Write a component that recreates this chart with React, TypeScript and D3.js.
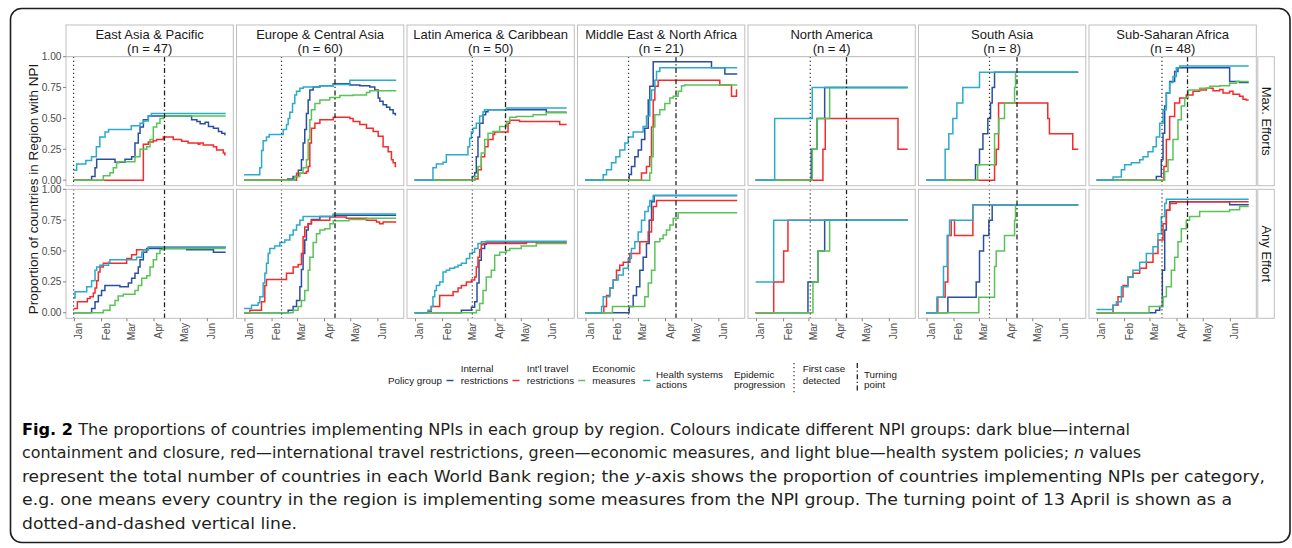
import React from "react";
import * as d3 from "d3";

// ---------------- data ----------------
// day offsets are days since 31 Dec 2019; values are proportions of countries
const REGIONS = [
  "East Asia & Pacific",
  "Europe & Central Asia",
  "Latin America & Caribbean",
  "Middle East & North Africa",
  "North America",
  "South Asia",
  "Sub-Saharan Africa",
];
const REGION_N = [47, 60, 50, 21, 4, 8, 48];
const FIRST_CASE_DAY = [0, 42.8, 66, 49.7, 62.5, 72.5, 74.8];
const TURNING_DAY = 104;
const END_DAY = 174;
const ROW_LABELS = ["Max. Efforts", "Any Effort"];
const SERIES_NAMES = ["Internal\nrestrictions", "Int'l travel\nrestrictions", "Economic\nmeasures", "Health systems\nactions"];
const SERIES_COLORS = ["#2b4f9e", "#f52a2a", "#58c456", "#2aaacd"];
const Y_TICKS = [0, 0.25, 0.5, 0.75, 1];

type Pt = [number, number];

// East Asia & Pacific
const eapMaxInternal: Pt[] = [[0,0],[20.6,0.03],[24.5,0.1],[26.4,0.17],[47.4,0.145],[58.8,0.17],[66.4,0.19],[70.2,0.3],[74,0.38],[76,0.43],[79.8,0.49],[85.5,0.52],[135,0.49],[141,0.475],[144.8,0.457],[150.5,0.468],[154.3,0.435],[160,0.42],[165.7,0.395],[169.5,0.38],[173,0.37]];
const eapMaxTravel: Pt[] = [[0,0],[79.8,0.29],[85.5,0.31],[91.2,0.32],[95,0.33],[102.6,0.35],[114,0.33],[123.6,0.315],[131,0.3],[142.6,0.29],[144.5,0.3],[148.3,0.285],[160,0.27],[163.6,0.245],[171.3,0.22],[173,0.205]];
const eapMaxEconomic: Pt[] = [[0,0],[34,0.035],[41.6,0.06],[45.4,0.1],[49.2,0.14],[52,0.15],[70.2,0.19],[76,0.25],[83.6,0.27],[87.4,0.33],[91.2,0.43],[95,0.46],[98.8,0.5],[102.6,0.52]];
const eapMaxHealth: Pt[] = [[0,0.08],[3.5,0.13],[14,0.16],[20.5,0.19],[26,0.27],[30,0.35],[36,0.39],[40,0.41],[66,0.44],[76,0.46],[80,0.48],[85.5,0.52],[89,0.54]];
const eapAnyInternal: Pt[] = [[0,0],[20.6,0.035],[24.5,0.09],[28.3,0.14],[32,0.18],[35.8,0.22],[53,0.21],[62.6,0.24],[66.4,0.28],[70.2,0.32],[74,0.37],[76,0.43],[79.8,0.49],[83.6,0.52],[129.4,0.51],[160,0.49]];
const eapAnyTravel: Pt[] = [[0,0.035],[4.3,0.09],[15.7,0.115],[18.8,0.13],[22.6,0.16],[24.5,0.2],[26.4,0.26],[28.3,0.33],[30.2,0.37],[34,0.4],[60.7,0.44],[66.4,0.47],[72,0.51],[85.5,0.53]];
const eapAnyEconomic: Pt[] = [[0,0],[34,0.02],[41.6,0.06],[47.4,0.1],[51,0.135],[56.8,0.15],[70.2,0.18],[74,0.22],[77.9,0.28],[83.6,0.3],[87.4,0.37],[91.2,0.43],[95,0.48],[98.8,0.51],[102.6,0.52]];
const eapAnyHealth: Pt[] = [[0,0.12],[1.6,0.17],[15,0.21],[20.6,0.26],[24.5,0.345],[26.4,0.37],[30,0.385],[40,0.41],[41.6,0.43],[72,0.45],[77.9,0.49],[79.8,0.51],[85.5,0.53]];

// Europe & Central Asia
const ecaMaxInternal: Pt[] = [[0,0],[50,0.01],[56,0.03],[62,0.08],[65.6,0.165],[67.5,0.3],[69.4,0.41],[71.3,0.54],[73.3,0.65],[75.2,0.73],[79,0.755],[86.7,0.765],[102,0.78],[121,0.77],[132.4,0.765],[143.8,0.755],[149.5,0.73],[153.4,0.665],[155.3,0.64],[159,0.61],[163,0.59],[166.7,0.57],[170.5,0.54],[173,0.53]];
const ecaMaxTravel: Pt[] = [[0,0],[60,0.055],[71.3,0.07],[73.3,0.11],[75.2,0.3],[77,0.42],[81,0.46],[86.7,0.49],[102,0.51],[121,0.5],[124.7,0.475],[132.4,0.45],[140,0.42],[147.7,0.395],[153.4,0.355],[159,0.27],[164.8,0.23],[168.6,0.165],[170.5,0.14],[173,0.11]];
const ecaMaxEconomic: Pt[] = [[0,0],[58,0.03],[63.8,0.055],[67.5,0.1],[71.3,0.165],[73.3,0.33],[75.2,0.49],[77,0.57],[81,0.62],[86.7,0.65],[98,0.67],[109.5,0.685],[124.7,0.69],[140,0.71],[143.8,0.725]];
const ecaMaxHealth: Pt[] = [[0,0.043],[18,0.1],[20,0.24],[21.8,0.32],[25.6,0.35],[28.7,0.37],[44.7,0.41],[48.5,0.45],[50.4,0.5],[52.3,0.55],[55.4,0.62],[58,0.69],[60,0.72],[63.8,0.745],[67.6,0.755],[86.7,0.765],[102,0.775],[121,0.81]];
const ecaAnyInternal: Pt[] = [[0,0],[50.4,0.02],[56.1,0.05],[60,0.1],[63.8,0.21],[65.6,0.35],[67.5,0.48],[69.4,0.59],[71.3,0.67],[73.3,0.72],[77,0.755],[86.7,0.78],[102,0.79]];
const ecaAnyTravel: Pt[] = [[0,0],[6.6,0.02],[19.9,0.09],[23.7,0.22],[25.6,0.27],[48.5,0.32],[56.1,0.37],[61.8,0.39],[65.6,0.48],[67.5,0.615],[69.4,0.695],[73.3,0.72],[77,0.75],[98,0.775],[117,0.765],[140,0.75],[151.5,0.735],[155,0.72],[159,0.735]];
const ecaAnyEconomic: Pt[] = [[0,0],[56.1,0.02],[61.8,0.05],[65.6,0.1],[69.4,0.18],[73.3,0.345],[75.2,0.45],[79,0.57],[82.8,0.64],[86.7,0.67],[92.4,0.68],[98.2,0.72],[102,0.745],[120,0.755],[140,0.765]];
const ecaAnyHealth: Pt[] = [[0,0.035],[8.5,0.06],[16,0.08],[18,0.13],[21.8,0.24],[23.7,0.32],[25.6,0.4],[27.5,0.48],[29.4,0.52],[35,0.54],[40.9,0.57],[46.6,0.59],[52.3,0.63],[56.1,0.67],[60,0.71],[63.8,0.75],[67.5,0.78],[102,0.8]];

// Latin America & Caribbean
const lacMaxInternal: Pt[] = [[0,0],[66,0.03],[68.7,0.06],[70.6,0.19],[72.5,0.35],[74.4,0.46],[78.3,0.53],[81.3,0.555],[84,0.57],[150.7,0.55]];
const lacMaxTravel: Pt[] = [[0,0],[68.7,0.01],[72.5,0.085],[76.3,0.19],[80.2,0.27],[84,0.33],[89.7,0.37],[91.6,0.39],[106.9,0.46],[108.8,0.485],[120,0.475],[166,0.45]];
const lacMaxEconomic: Pt[] = [[0,0],[68.7,0.03],[72.5,0.11],[76.3,0.22],[80.2,0.33],[84,0.38],[89.7,0.395],[97.3,0.435],[105,0.475],[108.8,0.51],[116.4,0.515],[135.5,0.53],[150.7,0.545]];
const lacMaxHealth: Pt[] = [[0,0],[21,0.1],[24.9,0.13],[32.5,0.145],[36.3,0.205],[61,0.27],[63,0.34],[65,0.39],[66.8,0.42],[70.6,0.46],[74.4,0.52],[78.3,0.555],[80,0.57],[105,0.585]];
const lacAnyInternal: Pt[] = [[0,0],[53.5,0.02],[65,0.045],[68.7,0.09],[71.4,0.24],[73.7,0.425],[76.3,0.52],[80.2,0.555],[82,0.565],[128,0.575]];
const lacAnyTravel: Pt[] = [[0,0],[15.3,0.01],[19.1,0.05],[28.7,0.14],[44,0.17],[49.7,0.2],[53.5,0.22],[59.2,0.25],[65,0.265],[68.7,0.29],[70.6,0.37],[72.5,0.45],[74.4,0.51],[76.3,0.55],[78.3,0.56],[127.8,0.575],[139.3,0.565]];
const lacAnyEconomic: Pt[] = [[0,0],[70.6,0.02],[74.4,0.075],[78.3,0.18],[82,0.29],[87.8,0.345],[91.6,0.465],[97.3,0.49],[105,0.505],[108.8,0.52],[122,0.54],[139.3,0.56]];
const lacAnyHealth: Pt[] = [[0,0],[15.3,0.02],[19.1,0.05],[21,0.13],[23,0.18],[24.9,0.22],[28.7,0.25],[32.5,0.33],[36.3,0.345],[40.1,0.36],[45.8,0.37],[49.7,0.385],[53.5,0.4],[59.2,0.44],[63,0.48],[66,0.49],[68.7,0.52],[72.5,0.56],[76.3,0.575],[82,0.58]];

// Middle East & North Africa
const menaMaxInternal: Pt[] = [[0,0],[50.4,0.045],[53,0.11],[56.9,0.19],[60.7,0.245],[64.5,0.33],[68.3,0.42],[72.2,0.65],[74,0.76],[77.9,0.96],[144.6,0.91],[159.9,0.86]];
const menaMaxTravel: Pt[] = [[0,0],[64.5,0.057],[70.2,0.11],[74,0.19],[76,0.43],[77.9,0.65],[79.8,0.76],[83.6,0.81],[154.1,0.77],[167.5,0.68],[173.2,0.73]];
const menaMaxEconomic: Pt[] = [[0,0],[74,0.057],[76,0.19],[77.9,0.43],[79.8,0.53],[85.5,0.57],[91.2,0.62],[97,0.665],[100.8,0.68],[106.5,0.72],[110.3,0.765],[114,0.77]];
const menaMaxHealth: Pt[] = [[0,0],[20.7,0.043],[24.5,0.085],[30.2,0.14],[35.2,0.19],[39.7,0.245],[45.5,0.3],[49.3,0.35],[55,0.39],[66.4,0.435],[70.2,0.52],[74,0.65],[76,0.73],[79.8,0.81],[81.7,0.88],[85.5,0.91]];
const menaAnyInternal: Pt[] = [[0,0],[50.4,0.05],[55,0.14],[58.8,0.21],[62.6,0.345],[66.4,0.45],[70.2,0.56],[73.3,0.75],[76,0.9],[79,0.95]];
const menaAnyTravel: Pt[] = [[0,0],[21.4,0.05],[24.5,0.14],[28.3,0.2],[32.1,0.265],[35.9,0.345],[39.7,0.385],[43.6,0.41],[51.2,0.48],[62.6,0.575],[72.2,0.655],[76,0.75],[77.9,0.86],[81.7,0.91]];
const menaAnyEconomic: Pt[] = [[0,0],[31.3,0.05],[68.3,0.13],[72.2,0.24],[76,0.345],[79.8,0.575],[85.5,0.6],[89.3,0.63],[93.1,0.67],[97,0.71],[100.8,0.765],[106.5,0.81]];
const menaAnyHealth: Pt[] = [[0,0],[18.8,0.05],[20.7,0.13],[28.3,0.2],[32.1,0.265],[37.8,0.305],[43.6,0.36],[49.3,0.44],[53,0.52],[56.9,0.575],[60.7,0.655],[64.5,0.75],[68.3,0.82],[72.2,0.86],[74,0.91],[77.9,0.95]];

// North America
const naMaxInternal: Pt[] = [[0,0],[63.7,0.25],[70.2,0.5],[79,0.75]];
const naMaxTravel: Pt[] = [[0,0],[77,0.25],[79.7,0.5],[162.9,0.25]];
const naMaxEconomic: Pt[] = [[0,0],[64.8,0.25],[70.2,0.5],[84.7,0.75]];
const naMaxHealth: Pt[] = [[0,0],[21.8,0.5],[64.8,0.75]];
const naAnyInternal: Pt[] = [[0,0],[59.9,0.25],[71.3,0.5],[79,0.75]];
const naAnyTravel: Pt[] = [[0,0],[20.7,0.25],[32.1,0.5],[37,0.75]];
const naAnyEconomic: Pt[] = [[0,0],[65.6,0.25],[71.3,0.5],[84.7,0.75]];
const naAnyHealth: Pt[] = [[0,0.25],[20.7,0.75]];

// South Asia
const saMaxInternal: Pt[] = [[0,0],[56.5,0.125],[61.1,0.25],[65,0.375],[70.6,0.5],[73.7,0.625],[75.6,0.75],[78.3,0.875]];
const saMaxTravel: Pt[] = [[0,0],[78.3,0.125],[80.2,0.25],[82.9,0.625],[139.2,0.5],[141.1,0.375],[167.8,0.25]];
const saMaxEconomic: Pt[] = [[0,0],[59,0.125],[78.3,0.375],[83.2,0.5],[89.7,0.625],[101.2,0.75],[102.3,0.875]];
const saMaxHealth: Pt[] = [[0,0],[21.8,0.25],[26,0.375],[30.6,0.5],[35.2,0.625],[42,0.75],[61.1,0.875]];
const saAnyInternal: Pt[] = [[0,0],[24.9,0.125],[57.3,0.25],[61.1,0.5],[65.7,0.625],[71.8,0.75],[75.6,0.875]];
const saAnyTravel: Pt[] = [[0,0],[13.4,0.125],[21.8,0.25],[24.9,0.625],[28.7,0.75],[32.5,0.625],[53.5,0.875]];
const saAnyEconomic: Pt[] = [[0,0],[60.3,0.125],[78.3,0.375],[80.2,0.5],[89.7,0.625],[101.2,0.75],[102.3,0.875]];
const saAnyHealth: Pt[] = [[0,0],[12.3,0.125],[19.9,0.375],[24.1,0.625],[26.8,0.75],[53.5,0.875]];

// Sub-Saharan Africa
const ssaMaxInternal: Pt[] = [[0,0],[68.3,0.03],[74,0.165],[76,0.38],[77.9,0.6],[79.8,0.705],[83.6,0.8],[89.3,0.88],[93.1,0.91],[152.2,0.8],[163.6,0.79]];
const ssaMaxTravel: Pt[] = [[0,0],[77,0.11],[79.8,0.33],[83.6,0.515],[89.3,0.625],[95,0.665],[102.6,0.69],[110.3,0.72],[117.9,0.73],[125.6,0.745],[133.2,0.725],[140.8,0.735],[144.6,0.705],[152.2,0.72],[156,0.695],[163.6,0.68],[167.5,0.655],[171,0.65]];
const ssaMaxEconomic: Pt[] = [[0,0],[77.9,0.07],[81.7,0.165],[87.4,0.33],[93.1,0.49],[96.9,0.6],[100.8,0.665],[104.6,0.73],[117.9,0.745],[129.4,0.76],[140.8,0.765],[152.2,0.785],[159.9,0.8]];
const ssaMaxHealth: Pt[] = [[0,0],[18.8,0.025],[28.3,0.085],[32.1,0.125],[39.7,0.14],[49.3,0.165],[53.1,0.19],[58.8,0.23],[64.5,0.27],[68.3,0.35],[72.2,0.46],[76,0.57],[79.8,0.705],[83.6,0.79],[87.4,0.84],[91.2,0.91],[95,0.925]];
const ssaAnyInternal: Pt[] = [[0,0],[67.6,0.02],[72.2,0.05],[75.2,0.345],[77.9,0.67],[79.8,0.83],[83.6,0.9],[152.2,0.875]];
const ssaAnyTravel: Pt[] = [[0,0],[18.8,0.06],[24.5,0.13],[30.2,0.22],[35.9,0.29],[41.6,0.32],[49.3,0.36],[56.9,0.41],[64.5,0.48],[70.2,0.59],[76,0.72],[79.8,0.83],[83.6,0.885],[91.2,0.9]];
const ssaAnyEconomic: Pt[] = [[0,0],[60,0.05],[76,0.13],[79.8,0.21],[85.5,0.345],[89.3,0.45],[93.1,0.575],[96.9,0.68],[102.6,0.75],[106.4,0.78],[117.9,0.82],[152.2,0.835],[163.6,0.86]];
const ssaAnyHealth: Pt[] = [[0,0.027],[18.8,0.06],[22.6,0.09],[28.3,0.21],[35.9,0.29],[41.6,0.345],[49.3,0.41],[56.9,0.48],[64.5,0.535],[70.2,0.64],[74,0.78],[77.9,0.885],[79.8,0.92]];

const MAX_DATA: Pt[][][] = [
  [eapMaxInternal, eapMaxTravel, eapMaxEconomic, eapMaxHealth],
  [ecaMaxInternal, ecaMaxTravel, ecaMaxEconomic, ecaMaxHealth],
  [lacMaxInternal, lacMaxTravel, lacMaxEconomic, lacMaxHealth],
  [menaMaxInternal, menaMaxTravel, menaMaxEconomic, menaMaxHealth],
  [naMaxInternal, naMaxTravel, naMaxEconomic, naMaxHealth],
  [saMaxInternal, saMaxTravel, saMaxEconomic, saMaxHealth],
  [ssaMaxInternal, ssaMaxTravel, ssaMaxEconomic, ssaMaxHealth],
];
const ANY_DATA: Pt[][][] = [
  [eapAnyInternal, eapAnyTravel, eapAnyEconomic, eapAnyHealth],
  [ecaAnyInternal, ecaAnyTravel, ecaAnyEconomic, ecaAnyHealth],
  [lacAnyInternal, lacAnyTravel, lacAnyEconomic, lacAnyHealth],
  [menaAnyInternal, menaAnyTravel, menaAnyEconomic, menaAnyHealth],
  [naAnyInternal, naAnyTravel, naAnyEconomic, naAnyHealth],
  [saAnyInternal, saAnyTravel, saAnyEconomic, saAnyHealth],
  [ssaAnyInternal, ssaAnyTravel, ssaAnyEconomic, ssaAnyHealth],
];

const CAPTION_LINES = [
  { parts: [{ t: "Fig. 2", b: true }, { t: " The proportions of countries implementing NPIs in each group by region. Colours indicate different NPI groups: dark blue\u2014internal" }], w: 1108 },
  { parts: [{ t: "containment and closure, red\u2014international travel restrictions, green\u2014economic measures, and light blue\u2014health system policies; " }, { t: "n", i: true }, { t: " values" }], w: 1119 },
  { parts: [{ t: "represent the total number of countries in each World Bank region; the " }, { t: "y", i: true }, { t: "-axis shows the proportion of countries implementing NPIs per category," }], w: 1243 },
  { parts: [{ t: "e.g. one means every country in the region is implementing some measures from the NPI group. The turning point of 13 April is shown as a" }], w: 1210 },
  { parts: [{ t: "dotted-and-dashed vertical line." }], w: 275 },
];

// ---------------- layout ----------------
const W = 1292;
const H = 548;
const PANEL_X0 = 66;
const PANEL_STEP = 170.5;
const PANEL_W = 167.3;
const STRIP_TOP = 25;
const ROW_TOPS = [56.7, 189.3];
const PANEL_H = 129;
const FONT = "'Liberation Sans', Arial, Helvetica, sans-serif";
const GREY_TXT = "#4d4d4d";
const BORDER = "#bfbfbf";

const DAY0 = new Date(2019, 11, 31).getTime();
const toDate = (d: number) => new Date(DAY0 + d * 86400000);

export default function App() {
  const yScale = (row: number) =>
    d3.scaleLinear().domain([-0.045, 1.0]).range([ROW_TOPS[row] + PANEL_H, ROW_TOPS[row]]);
  const xScale = (col: number) => {
    const left = PANEL_X0 + col * PANEL_STEP;
    return d3.scaleTime().domain([toDate(-8.7), toDate(END_DAY + 8.7)]).range([left, left + PANEL_W]);
  };
  const monthTicks = d3.timeMonth.range(new Date(2020, 0, 1), new Date(2020, 6, 1));
  const fmt = d3.timeFormat("%b");

  const panels: React.ReactNode[] = [];
  REGIONS.forEach((region, c) => {
    const x = xScale(c);
    const left = PANEL_X0 + c * PANEL_STEP;
    panels.push(
      <g key={`strip-${c}`}>
        <rect x={left} y={STRIP_TOP} width={PANEL_W} height={ROW_TOPS[0] - STRIP_TOP} fill="#fff" stroke={BORDER} strokeWidth={1} />
        <text x={left + PANEL_W / 2} y={39} textAnchor="middle" fontSize={13} fontFamily={FONT} fill="#1a1a1a">{region}</text>
        <text x={left + PANEL_W / 2} y={53} textAnchor="middle" fontSize={13} fontFamily={FONT} fill="#1a1a1a">{`(n = ${REGION_N[c]})`}</text>
      </g>
    );
    [MAX_DATA, ANY_DATA].forEach((dataSet, r) => {
      const y = yScale(r);
      const top = ROW_TOPS[r];
      const line = d3
        .line<Pt>()
        .x((d) => x(toDate(d[0])))
        .y((d) => y(d[1]))
        .curve(d3.curveStepAfter);
      const clipId = `clip-${c}-${r}`;
      panels.push(
        <g key={`panel-${c}-${r}`}>
          <defs>
            <clipPath id={clipId}>
              <rect x={left} y={top} width={PANEL_W} height={PANEL_H} />
            </clipPath>
          </defs>
          <rect x={left} y={top} width={PANEL_W} height={PANEL_H} fill="#fff" />
          <g clipPath={`url(#${clipId})`}>
            {dataSet[c].map((series, s) => {
              const pts: Pt[] = [...series, [END_DAY, series[series.length - 1][1]]];
              return (
                <path key={s} d={line(pts) || ""} fill="none" stroke={SERIES_COLORS[s]} strokeWidth={1.5} />
              );
            })}
            <line x1={x(toDate(FIRST_CASE_DAY[c]))} x2={x(toDate(FIRST_CASE_DAY[c]))} y1={top} y2={top + PANEL_H} stroke="#333" strokeWidth={1.2} strokeDasharray="1.2,2.8" />
            <line x1={x(toDate(TURNING_DAY))} x2={x(toDate(TURNING_DAY))} y1={top} y2={top + PANEL_H} stroke="#222" strokeWidth={1.3} strokeDasharray="5,2.5,1.3,2.5" />
          </g>
          <rect x={left} y={top} width={PANEL_W} height={PANEL_H} fill="none" stroke={BORDER} strokeWidth={1} />
          {c === 0 &&
            Y_TICKS.map((t) => (
              <g key={t}>
                <line x1={left - 3} x2={left} y1={y(t)} y2={y(t)} stroke="#666" strokeWidth={0.8} />
                <text x={left - 4.5} y={y(t)} dy="0.35em" textAnchor="end" fontSize={10.2} fontFamily={FONT} fill={GREY_TXT}>
                  {t.toFixed(2)}
                </text>
              </g>
            ))}
          {r === 1 &&
            monthTicks.map((m) => (
              <g key={m.getTime()}>
                <line x1={x(m)} x2={x(m)} y1={top + PANEL_H} y2={top + PANEL_H + 3} stroke="#666" strokeWidth={0.8} />
                <text transform={`translate(${x(m) + 8},${top + PANEL_H + 4.5}) rotate(-90)`} textAnchor="end" fontSize={10.2} fontFamily={FONT} fill={GREY_TXT}>
                  {fmt(m)}
                </text>
              </g>
            ))}
        </g>
      );
    });
  });

  const rowStrips = ROW_LABELS.map((lab, r) => (
    <g key={lab}>
      <rect x={1257.8} y={ROW_TOPS[r]} width={16.5} height={PANEL_H} fill="#fff" stroke={BORDER} strokeWidth={1} />
      <text transform={`translate(${1261.5},${ROW_TOPS[r] + PANEL_H / 2}) rotate(90)`} textAnchor="middle" fontSize={13} fontFamily={FONT} fill="#1a1a1a">
        {lab}
      </text>
    </g>
  ));

  const keyX = [450, 516, 581.7, 646.7];
  const labX = [460.7, 526.7, 592.3, 656];
  const labY = [[368.3, 380.7], [368.3, 380.7], [368.3, 380.7], [374.3, 385]];
  const legend = (
    <g fontFamily={FONT} fontSize={9.8} fill="#1a1a1a">
      <text x={388} y={380.7} dy="0.35em">Policy group</text>
      {SERIES_NAMES.map((nm, i) => (
        <g key={nm}>
          <line x1={keyX[i] - 3.5} x2={keyX[i] + 3.5} y1={380.5} y2={380.5} stroke={SERIES_COLORS[i]} strokeWidth={1.5} />
          {nm.split("\n").map((ln, j) => (
            <text key={j} x={labX[i]} y={labY[i][j]} dy="0.35em">{ln}</text>
          ))}
        </g>
      ))}
      <text x={734} y={374.3} dy="0.35em">Epidemic</text>
      <text x={734} y={385} dy="0.35em">progression</text>
      <line x1={794} x2={794} y1={363} y2={395} stroke="#333" strokeWidth={1.2} strokeDasharray="1.2,2.8" />
      <text x={802.7} y={369} dy="0.35em">First case</text>
      <text x={802.7} y={380.7} dy="0.35em">detected</text>
      <line x1={857.3} x2={857.3} y1={363} y2={393} stroke="#222" strokeWidth={1.3} strokeDasharray="5,2.5,1.3,2.5" />
      <text x={864} y={374.3} dy="0.35em">Turning</text>
      <text x={864} y={385} dy="0.35em">point</text>
    </g>
  );

  const caption = (
    <g fontFamily="'Liberation Sans Narrow', 'DejaVu Sans Condensed', 'Liberation Sans', sans-serif" fontSize={16.5} fill="#231f20">
      {CAPTION_LINES.map((ln, i) => (
        <text key={i} x={22} y={435 + i * 23.4} textLength={ln.w} lengthAdjust="spacingAndGlyphs">
          {ln.parts.map((p: any, j: number) => (
            <tspan key={j} fontWeight={p.b ? "bold" : "normal"} fontStyle={p.i ? "italic" : "normal"} fill={p.b ? "#000" : undefined}>
              {p.t}
            </tspan>
          ))}
        </text>
      ))}
    </g>
  );

  return (
    <svg width={W} height={H} style={{ position: "absolute", left: 0, top: 0, background: "#fff" }}>
      <rect x={0} y={0} width={W} height={H} fill="#fff" />
      <rect x={10.5} y={8.5} width={1279.5} height={534} rx={11} ry={11} fill="none" stroke="#1e1e1e" strokeWidth={1.6} />
      <text transform={`translate(${38},${189}) rotate(-90)`} textAnchor="middle" fontSize={13.5} fontFamily={FONT} fill="#1a1a1a">
        Proportion of countries in Region with NPI
      </text>
      {panels}
      {rowStrips}
      {legend}
      {caption}
    </svg>
  );
}
